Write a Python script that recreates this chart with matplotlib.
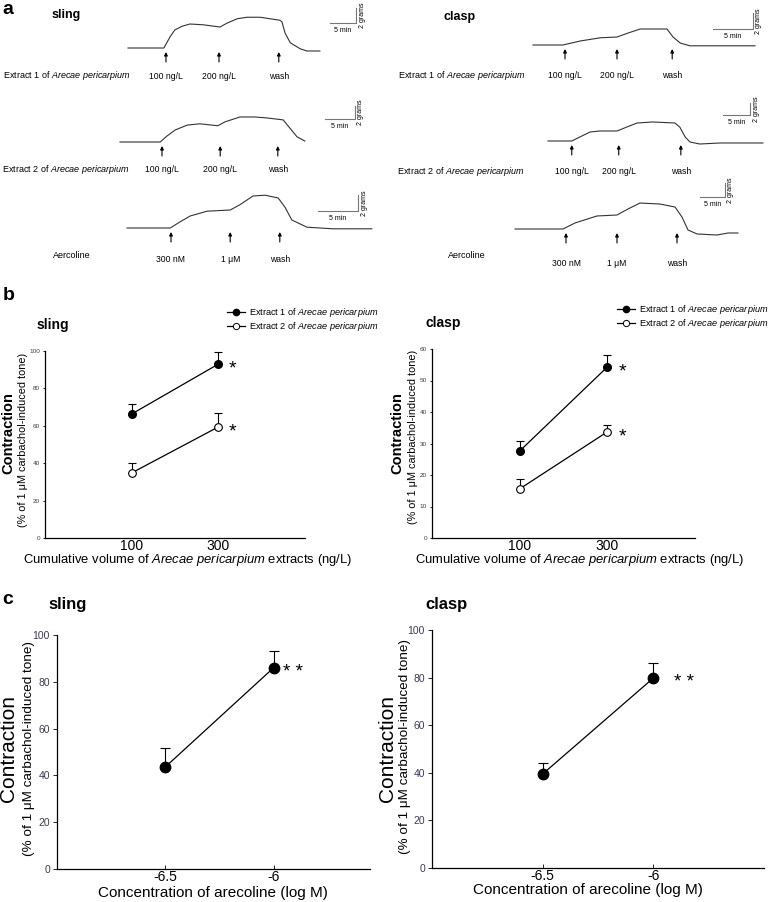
import matplotlib
matplotlib.use('Agg')
import matplotlib.pyplot as plt
from matplotlib.lines import Line2D

plt.rcParams['font.family'] = ['Liberation Sans', 'DejaVu Sans']
plt.rcParams['mathtext.fontset'] = 'custom'
plt.rcParams['mathtext.rm'] = 'Liberation Sans'
plt.rcParams['mathtext.it'] = 'Liberation Sans:italic'
plt.rcParams['mathtext.bf'] = 'Liberation Sans:bold'

W, H = 777, 902

# ---- panel a: isometric tension traces (time in min, tension in g above baseline)
sling1_t = [0, 6.9, 8.1, 9.0, 10.4, 11.9, 14.4, 17.7, 19.0, 21.0, 22.9, 25.4, 29.2, 29.6, 30.2, 31.2, 33.1, 34.4, 36.9]
sling1_g = [0, 0, 1.5, 2.4, 2.9, 3.2, 3.1, 2.8, 3.3, 3.9, 4.1, 4.1, 3.7, 3.5, 2.0, 0.7, -0.1, -0.4, -0.4]
sling1_arrows = [7.3, 17.5, 29.0]

sling2_t = [0, 6.7, 7.8, 9.2, 11.2, 13.3, 16.3, 17.5, 20.0, 22.5, 24.5, 27.2, 28.3, 29.5, 30.8]
sling2_g = [0, 0, 0.9, 1.85, 2.6, 2.8, 2.5, 3.1, 3.85, 3.85, 3.7, 3.4, 2.15, 0.8, 0.15]
sling2_arrows = [7.0, 16.7, 26.3]

sling3_t = [0, 5.4, 6.6, 7.9, 10.0, 12.9, 14.1, 15.75, 17.25, 18.9, 19.75, 20.6, 22.5, 25.75, 30.6]
sling3_g = [0, 0, 0.75, 1.5, 2.1, 2.25, 2.9, 4.0, 4.1, 3.75, 2.6, 1.0, 0.1, -0.1, -0.1]
sling3_arrows = [5.5, 12.9, 19.1]

clasp1_t = [0, 3.75, 5.9, 8.4, 10.5, 11.9, 13.4, 16.75, 17.5, 18.4, 19.6, 27.75]
clasp1_g = [0, 0, 0.5, 0.9, 1.0, 1.5, 2.0, 2.0, 1.0, 0.25, -0.1, -0.1]
clasp1_arrows = [4.0, 10.5, 17.4]

clasp2_t = [0, 4.4, 5.9, 7.8, 9.6, 12.8, 14.6, 16.5, 19.4, 23.5, 24.4, 25.4, 26.3, 28.1, 31.9, 39.8]
clasp2_g = [0, 0, 0.67, 1.5, 1.67, 1.67, 2.33, 3.0, 3.17, 3.0, 2.33, 0.67, -0.17, -0.5, -0.33, -0.33]
clasp2_arrows = [4.4, 13.1, 24.6]

clasp3_t = [0, 9.6, 12.0, 16.4, 20.4, 22.6, 25.0, 29.0, 32.0, 33.4, 34.6, 36.4, 40.4, 42.6, 44.6]
clasp3_g = [0, 0, 0.86, 1.86, 2.0, 2.86, 3.71, 3.57, 3.14, 1.71, -0.14, -0.71, -0.86, -0.57, -0.57]
clasp3_arrows = [10.2, 20.4, 32.4]

extract_doses = ['100 ng/L', '200 ng/L', 'wash']
arecoline_doses = ['300 nM', '1 \u03bcM', 'wash']

# ---- panel b: cumulative extract volume
doses_b = ['100', '300']
sling_ext1 = [66.3, 93.0]
sling_ext1_err = [5.4, 6.5]
sling_ext2 = [34.8, 59.4]
sling_ext2_err = [5.2, 7.4]
clasp_ext1 = [27.6, 54.3]
clasp_ext1_err = [3.2, 3.8]
clasp_ext2 = [15.6, 33.7]
clasp_ext2_err = [3.1, 2.2]

# ---- panel c: arecoline
log_conc = [-6.5, -6]
sling_arec = [43.6, 86.0]
sling_arec_err = [8.1, 7.3]
clasp_arec = [39.5, 79.8]
clasp_arec_err = [4.6, 6.3]

ext1_label = 'Extract 1 of $\\mathit{Arecae\\ pericarpium}$'
ext2_label = 'Extract 2 of $\\mathit{Arecae\\ pericarpium}$'
ylab_sub = '(% of 1 \u03bcM carbachol-induced tone)'

fig = plt.figure(figsize=(W / 100, H / 100), dpi=100)


def px_axes(l, t, r, b):
    return fig.add_axes([l / W, 1 - b / H, (r - l) / W, (b - t) / H])


def ftext(x, y, s, **kw):
    fig.text(x / W, 1 - y / H, s, **kw)


# trace layout: origin px (x0, y0), px per min, px per gram, scale bar corner px
traces = [
    dict(t=sling1_t, g=sling1_g, arrows=sling1_arrows, doses=extract_doses,
         x0=128, y0=48, ppm=5.2, ppg=7.5, bar=(356, 23), lab_dy=28,
         name=ext1_label, name_xy=(3, 76), name_ha='left'),
    dict(t=sling2_t, g=sling2_g, arrows=sling2_arrows, doses=extract_doses,
         x0=120, y0=142, ppm=6.0, ppg=6.5, bar=(355, 119), lab_dy=28,
         name=ext2_label, name_xy=(2, 170), name_ha='left'),
    dict(t=sling3_t, g=sling3_g, arrows=sling3_arrows, doses=arecoline_doses,
         x0=127, y0=228, ppm=8.0, ppg=8.0, bar=(358, 211), lab_dy=31,
         name='Aercoline', name_xy=(72, 256), name_ha='center'),
    dict(t=clasp1_t, g=clasp1_g, arrows=clasp1_arrows, doses=extract_doses,
         x0=533, y0=45, ppm=8.0, ppg=8.0, bar=(753, 29), lab_dy=31,
         name=ext1_label, name_xy=(398, 76), name_ha='left'),
    dict(t=clasp2_t, g=clasp2_g, arrows=clasp2_arrows, doses=extract_doses,
         x0=548, y0=141, ppm=5.4, ppg=6.0, bar=(750, 115), lab_dy=31,
         name=ext2_label, name_xy=(397, 172), name_ha='left'),
    dict(t=clasp3_t, g=clasp3_g, arrows=clasp3_arrows, doses=arecoline_doses,
         x0=515, y0=229, ppm=5.0, ppg=7.0, bar=(725, 197), lab_dy=34,
         name='Aercoline', name_xy=(467, 256), name_ha='center'),
]

for tr in traces:
    x0, y0, ppm, ppg = tr['x0'], tr['y0'], tr['ppm'], tr['ppg']
    ax = fig.add_axes([0, 0, 1, 1])
    ax.set_xlim(-x0 / ppm, (W - x0) / ppm)
    ax.set_ylim(-(H - y0) / ppg, y0 / ppg)
    ax.axis('off')
    ax.plot(tr['t'], tr['g'], color='#333333', lw=0.8)
    for ta, lab in zip(tr['arrows'], tr['doses']):
        ax.annotate('', xy=(ta, -4 / ppg), xytext=(ta, -14 / ppg),
                    arrowprops=dict(arrowstyle='-|>', color='black', lw=0.8,
                                    mutation_scale=5, shrinkA=0, shrinkB=0))
        ax.text(ta, -tr['lab_dy'] / ppg, lab, fontsize=6.2, ha='center', va='center')
    # scale bar: 5 min x 2 grams
    bx, by = tr['bar']
    tb = (bx - x0) / ppm
    gb = (y0 - by) / ppg
    ax.plot([tb - 5, tb, tb], [gb, gb, gb + 2], color='#777777', lw=0.8)
    ax.text(tb - 2.5, gb - 7 / ppg, '5 min', fontsize=5, ha='center', va='center')
    ax.text(tb + 6 / ppm, gb + 1, '2 grams', fontsize=5, ha='center', va='center', rotation=90)
    nx, ny = tr['name_xy']
    ftext(nx, ny, tr['name'], fontsize=6.5, ha=tr['name_ha'], va='center')

ftext(2, 9, 'a', fontsize=14, fontweight='bold', ha='left', va='center')
ftext(66, 15, 'sling', fontsize=9, fontweight='bold', ha='center', va='center')
ftext(460, 17, 'clasp', fontsize=9, fontweight='bold', ha='center', va='center')


def style(ax, tick_fs, xtick_fs, ylen, xlen, xdir):
    for s in ['top', 'right']:
        ax.spines[s].set_visible(False)
    for s in ['left', 'bottom']:
        ax.spines[s].set_linewidth(0.9)
    ax.tick_params(axis='y', labelsize=tick_fs, labelcolor='#3a3a5a', length=ylen,
                   width=0.6, pad=2)
    ax.tick_params(axis='x', labelsize=xtick_fs, length=xlen, width=0.6, pad=0.5,
                   direction=xdir)


# ---- panel b
b_panels = [
    dict(box=(45, 351, 305, 538), ymax=100, yticks=range(0, 101, 20),
         e1=sling_ext1, e1err=sling_ext1_err, e2=sling_ext2, e2err=sling_ext2_err,
         leg=(227, 306), star_dx=10),
    dict(box=(432, 349, 695, 538), ymax=60, yticks=range(0, 61, 10),
         e1=clasp_ext1, e1err=clasp_ext1_err, e2=clasp_ext2, e2err=clasp_ext2_err,
         leg=(617, 303), star_dx=11),
]
xb = [1, 2]
for p in b_panels:
    ax = px_axes(*p['box'])
    ax.set_xlim(0, 3)
    ax.set_ylim(0, p['ymax'])
    ax.set_xticks(xb)
    ax.set_xticklabels(doses_b)
    ax.set_yticks(list(p['yticks']))
    style(ax, 4.6, 10, 1.5, 0, 'out')
    ax.errorbar(xb, p['e1'], yerr=[[0, 0], p['e1err']], fmt='none', ecolor='black',
                capsize=3, elinewidth=0.8, capthick=0.8)
    ax.errorbar(xb, p['e2'], yerr=[[0, 0], p['e2err']], fmt='none', ecolor='black',
                capsize=3, elinewidth=0.8, capthick=0.8)
    ax.plot(xb, p['e1'], color='black', lw=0.9, marker='o', ms=5.5, mfc='black', mec='black')
    ax.plot(xb, p['e2'], color='black', lw=0.9, marker='o', ms=5.5, mfc='white',
            mec='black', mew=0.8)
    for v in (p['e1'][1], p['e2'][1]):
        ax.annotate('*', xy=(2, v), xytext=(p['star_dx'], -3.5), textcoords='offset points',
                    fontsize=14, ha='center', va='center')
    handles = [Line2D([], [], color='black', lw=0.9, marker='o', ms=4.5, mfc='black'),
               Line2D([], [], color='black', lw=0.9, marker='o', ms=4.5, mfc='white', mew=0.7)]
    lx, ly = p['leg']
    ax.legend(handles, [ext1_label, ext2_label], loc='upper left',
              bbox_to_anchor=(lx / W, 1 - ly / H),
              bbox_transform=fig.transFigure, frameon=False, fontsize=6.6,
              handlelength=2.0, handletextpad=0.4, labelspacing=0.1,
              borderpad=0, borderaxespad=0)

ftext(3, 296, 'b', fontsize=14, fontweight='bold', ha='left', va='center')
ftext(53, 325, 'sling', fontsize=10, fontweight='bold', ha='center', va='center')
ftext(443, 323, 'clasp', fontsize=10, fontweight='bold', ha='center', va='center')
for cx, sx, y in [(8, 23, 440), (397, 413, 437)]:
    ftext(cx, 433, 'Contraction', fontsize=10.5, fontweight='bold', rotation=90,
          ha='center', va='center')
    ftext(sx, y, ylab_sub, fontsize=7.8, rotation=90, ha='center', va='center')
xlab_b = 'Cumulative volume of $\\mathit{Arecae\\ pericarpium}$ extracts (ng/L)'
ftext(188, 560, xlab_b, fontsize=9.4, ha='center', va='center')
ftext(580, 560, xlab_b, fontsize=9.4, ha='center', va='center')

# ---- panel c
c_panels = [
    dict(box=(57, 635, 370, 869), xlim=(-7, -5.555), vals=sling_arec, err=sling_arec_err,
         star_dx=14),
    dict(box=(432, 630, 764, 868), xlim=(-7, -5.5), vals=clasp_arec, err=clasp_arec_err,
         star_dx=22),
]
for p in c_panels:
    ax = px_axes(*p['box'])
    ax.set_xlim(*p['xlim'])
    ax.set_ylim(0, 100)
    ax.set_xticks(log_conc)
    ax.set_xticklabels(['-6.5', '-6'])
    ax.set_yticks(range(0, 101, 20))
    style(ax, 7.5, 10, 3, 3, 'in')
    ax.errorbar(log_conc, p['vals'], yerr=[[0, 0], p['err']], fmt='none', ecolor='black',
                capsize=3.5, elinewidth=0.8, capthick=0.8)
    ax.plot(log_conc, p['vals'], color='black', lw=0.9, marker='o', ms=7.5,
            mfc='black', mec='black')
    ax.annotate('* *', xy=(log_conc[1], p['vals'][1]), xytext=(p['star_dx'], -3.5),
                textcoords='offset points', fontsize=13.5, ha='center', va='center')

ftext(2, 599, 'c', fontsize=14, fontweight='bold', ha='left', va='center')
ftext(68, 605, 'sling', fontsize=12, fontweight='bold', ha='center', va='center')
ftext(446, 605, 'clasp', fontsize=12, fontweight='bold', ha='center', va='center')
for cx, sx, y in [(9, 29, 748), (387, 405, 747)]:
    ftext(cx, 748, 'Contraction', fontsize=15, rotation=90, ha='center', va='center')
    ftext(sx, y, ylab_sub, fontsize=9.7, rotation=90, ha='center', va='center')
ftext(213, 893, 'Concentration of arecoline (log M)', fontsize=11, ha='center', va='center')
ftext(588, 890, 'Concentration of arecoline (log M)', fontsize=11, ha='center', va='center')

fig.savefig('out.png', dpi=100)
